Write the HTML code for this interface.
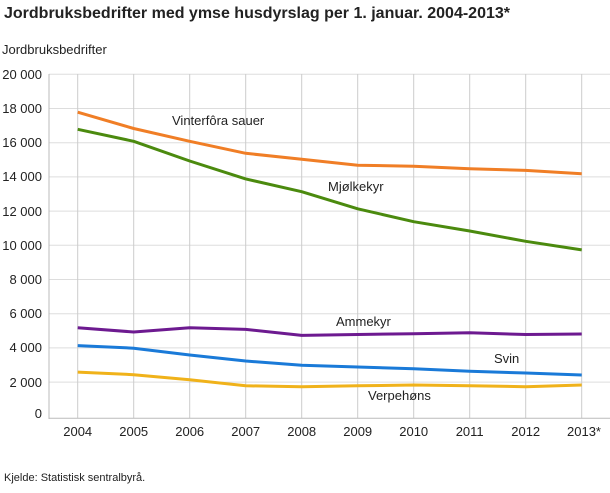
<!DOCTYPE html>
<html><head><meta charset="utf-8"><style>
body{margin:0;background:#fff;width:610px;height:488px;overflow:hidden;font-family:"Liberation Sans",sans-serif}
</style></head><body>
<svg width="610" height="488" xmlns="http://www.w3.org/2000/svg" font-family="Liberation Sans, sans-serif">
<text x="4" y="18" font-size="16" font-weight="bold" fill="#222">Jordbruksbedrifter med ymse husdyrslag per 1. januar. 2004-2013*</text>
<text x="2" y="54" font-size="13" fill="#222">Jordbruksbedrifter</text>
<g stroke="#dddddd" stroke-width="1">
<line x1="49" x2="610" y1="74.3" y2="74.3"/><line x1="49" x2="610" y1="108.5" y2="108.5"/><line x1="49" x2="610" y1="142.7" y2="142.7"/><line x1="49" x2="610" y1="176.9" y2="176.9"/><line x1="49" x2="610" y1="211.1" y2="211.1"/><line x1="49" x2="610" y1="245.3" y2="245.3"/><line x1="49" x2="610" y1="279.5" y2="279.5"/><line x1="49" x2="610" y1="313.7" y2="313.7"/><line x1="49" x2="610" y1="347.9" y2="347.9"/><line x1="49" x2="610" y1="382.1" y2="382.1"/>
</g>
<g stroke="#cccccc" stroke-width="1">
<line x1="77.7" x2="77.7" y1="74" y2="418"/><line x1="133.7" x2="133.7" y1="74" y2="418"/><line x1="189.7" x2="189.7" y1="74" y2="418"/><line x1="245.7" x2="245.7" y1="74" y2="418"/><line x1="301.7" x2="301.7" y1="74" y2="418"/><line x1="357.7" x2="357.7" y1="74" y2="418"/><line x1="413.7" x2="413.7" y1="74" y2="418"/><line x1="469.7" x2="469.7" y1="74" y2="418"/><line x1="525.7" x2="525.7" y1="74" y2="418"/><line x1="581.7" x2="581.7" y1="74" y2="418"/>
</g>
<line x1="49" x2="49" y1="74" y2="419" stroke="#bbb"/>
<line x1="49" x2="610" y1="418.3" y2="418.3" stroke="#bbb"/>
<g font-size="13" fill="#222" text-anchor="end">
<text x="42" y="79">20 000</text><text x="42" y="113">18 000</text><text x="42" y="147">16 000</text><text x="42" y="181">14 000</text><text x="42" y="216">12 000</text><text x="42" y="250">10 000</text><text x="42" y="284">8 000</text><text x="42" y="318">6 000</text><text x="42" y="352">4 000</text><text x="42" y="387">2 000</text><text x="42" y="418">0</text>
</g>
<g font-size="13" fill="#222" text-anchor="middle">
<text x="77.7" y="436">2004</text><text x="133.7" y="436">2005</text><text x="189.7" y="436">2006</text><text x="245.7" y="436">2007</text><text x="301.7" y="436">2008</text><text x="357.7" y="436">2009</text><text x="413.7" y="436">2010</text><text x="469.7" y="436">2011</text><text x="525.7" y="436">2012</text><text x="584" y="436">2013*</text>
</g>
<g fill="none" stroke-width="3" stroke-linejoin="round">
<polyline stroke="#f07e26" points="77.7,112.2 133.7,128.5 189.7,141.3 245.7,153.3 301.7,159.3 357.7,165.2 413.7,166.2 469.7,168.7 525.7,170.4 581.7,173.8"/>
<polyline stroke="#4b8a0e" points="77.7,129.3 133.7,141.3 189.7,161 245.7,178.9 301.7,191.7 357.7,208.8 413.7,221.7 469.7,231.0 525.7,241.3 581.7,249.9"/>
<polyline stroke="#6d1a90" points="77.7,327.7 133.7,332 189.7,327.7 245.7,329.4 301.7,335.4 357.7,334.5 413.7,333.7 469.7,332.8 525.7,334.5 581.7,334"/>
<polyline stroke="#1a7ad8" points="77.7,345.6 133.7,348.2 189.7,355 245.7,361 301.7,365.3 357.7,367 413.7,368.7 469.7,371.3 525.7,373 581.7,375"/>
<polyline stroke="#f0b21a" points="77.7,372.1 133.7,374.7 189.7,379.8 245.7,385.8 301.7,386.7 357.7,385.8 413.7,385 469.7,385.8 525.7,386.7 581.7,385"/>
</g>
<g font-size="13" fill="#222">
<text x="172" y="125">Vinterfôra sauer</text>
<text x="328" y="191">Mjølkekyr</text>
<text x="336" y="326">Ammekyr</text>
<text x="494" y="363">Svin</text>
<text x="368" y="400">Verpehøns</text>
</g>
<text x="4" y="481" font-size="11" fill="#222">Kjelde: Statistisk sentralbyrå.</text>
</svg>
</body></html>
